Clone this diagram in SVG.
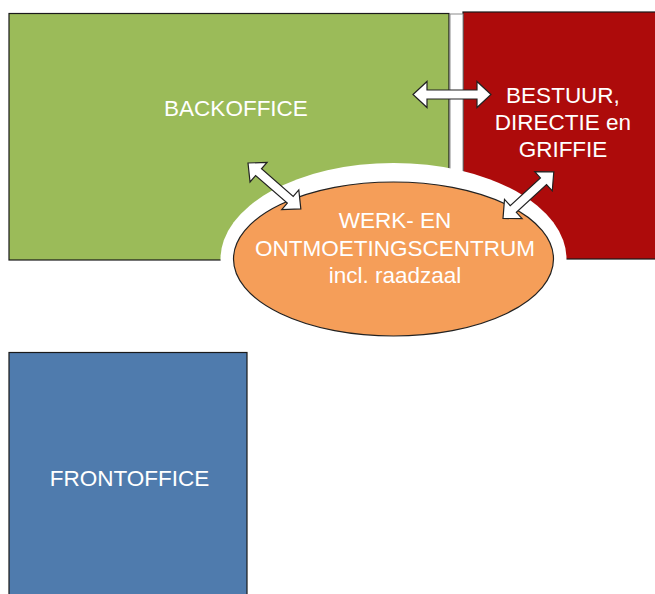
<svg xmlns="http://www.w3.org/2000/svg" width="655" height="594" viewBox="0 0 655 594">
<style>
.lbl{font-family:"Liberation Sans",Arial,sans-serif;font-size:22.5px;fill:#ffffff;text-anchor:middle}
.box{stroke:#1a1a1a;stroke-width:1.2}
.arrow{fill:#ffffff;stroke:#222222;stroke-width:1.2;stroke-linejoin:miter}
</style>
<rect width="655" height="594" fill="#ffffff"/>
<g id="backoffice">
<rect class="box" x="9" y="13.5" width="440" height="246.5" fill="#9BBB59"/>
<text class="lbl" x="236" y="116">BACKOFFICE</text>
</g>
<g id="bestuur">
<rect class="box" x="463" y="12" width="200" height="247" fill="#AD0B0B"/>
</g>
<rect id="gap" x="450" y="14" width="13" height="165" fill="#ffffff" stroke="#8c8c8c" stroke-width="1"/>
<g id="frontoffice">
<rect class="box" x="9" y="352.5" width="238" height="250" fill="#4F7BAD"/>
<text class="lbl" x="129.5" y="486">FRONTOFFICE</text>
</g>
<g id="centrum">
<ellipse cx="393.5" cy="259" rx="173" ry="96" fill="#ffffff"/>
<ellipse cx="393.5" cy="259" rx="160" ry="77" fill="#F59E59" stroke="#222222" stroke-width="1.2"/>
<text class="lbl" x="395" y="228">WERK- EN</text>
<text class="lbl" x="395" y="256">ONTMOETINGSCENTRUM</text>
<text class="lbl" x="395" y="283">incl. raadzaal</text>
</g>
<g id="bestuur-text">
<text class="lbl" x="563" y="103">BESTUUR,</text>
<text class="lbl" x="563" y="130">DIRECTIE en</text>
<text class="lbl" x="563" y="157">GRIFFIE</text>
</g>
<g id="connectors">
<polygon class="arrow" transform="translate(413,94.5)" points="0,0 14,-13 14,-4.5 64,-4.5 64,-13 78,0 64,13 64,4.5 14,4.5 14,13"/>
<polygon class="arrow" transform="translate(248,163) rotate(41)" points="0,0 14,-13 14,-4.5 56,-4.5 56,-13 70,0 56,13 56,4.5 14,4.5 14,13"/>
<polygon class="arrow" transform="translate(503,218.5) rotate(-42.6)" points="0,0 14,-13 14,-4.5 55,-4.5 55,-13 69,0 55,13 55,4.5 14,4.5 14,13"/>
</g>
</svg>
